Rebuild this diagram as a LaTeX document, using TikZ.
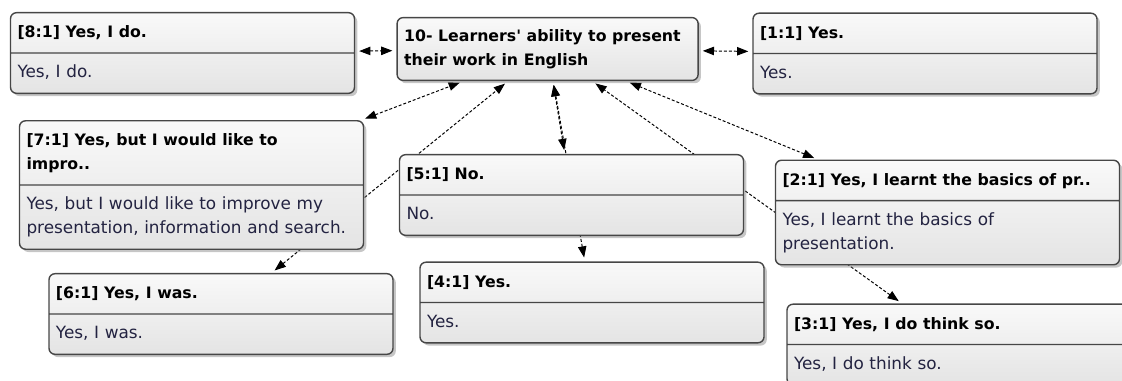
\documentclass[tikz,border=0pt]{standalone}
\usepackage{fontspec}
\setmainfont{DejaVu Sans}
\usetikzlibrary{shapes.multipart,shadows,arrows.meta,backgrounds}
\definecolor{boxline}{RGB}{70,70,70}
\definecolor{boxtop}{RGB}{249,249,249}
\definecolor{boxbot}{RGB}{228,228,228}
\definecolor{bodytext}{RGB}{35,35,65}
\newcommand{\ttlfont}{\fontsize{11.2}{17}\selectfont\bfseries}
\newcommand{\qa}[2]{{\ttlfont\strut#1\strut}\nodepart{two}\color{bodytext}\strut#2\strut}
\tikzset{
  boxlook/.style={draw=boxline, line width=1pt, rounded corners=0.15cm,
    top color=boxtop, bottom color=boxbot,
    drop shadow={shadow xshift=0.07cm, shadow yshift=-0.07cm, opacity=0.45},
    align=left, inner xsep=0.175cm, inner ysep=0.1875cm,
    font=\fontsize{12}{17}\selectfont},
  answer/.style={boxlook, rectangle split, rectangle split parts=2, text width=8.25cm},
  question/.style={boxlook, rectangle, text width=7.175cm},
  link/.style={{Triangle[length=0.28cm,width=0.21cm]}-{Triangle[length=0.28cm,width=0.21cm]},
    dash pattern=on 0.075cm off 0.05cm, line width=0.7pt,
    shorten <=0.1cm, shorten >=0.1cm}
}
\begin{document}
\begin{tikzpicture}
\path[use as bounding box, clip] (0,0) rectangle (28.05,-9.525);
\path node[question] (Q10) at (13.69,-1.225) {\ttlfont\strut 10- Learners\textquotesingle{} ability to present\\their work in English\strut}
node[answer] (A8) at (4.5625,-1.325) {\qa{[8:1] Yes, I do.}{Yes, I do.}}
node[answer] (A1) at (23.125,-1.3375) {\qa{[1:1] Yes.}{Yes.}}
node[answer] (A7) at (4.7875,-4.625) {\qa{[7:1] Yes, but I would like to\\impro..}{Yes, but I would like to improve my\\presentation, information and search.}}
node[answer] (A5) at (14.2875,-4.875) {\qa{[5:1] No.}{No.}}
node[answer] (A4) at (14.8,-7.5625) {\qa{[4:1] Yes.}{Yes.}}
node[answer] (A2) at (23.6875,-5.3125) {\qa{[2:1] Yes, I learnt the basics of pr..}{Yes, I learnt the basics of\\presentation.}}
node[answer] (A3) at (23.975,-8.6125) {\qa{[3:1] Yes, I do think so.}{Yes, I do think so.}}
node[answer] (A6) at (5.525,-7.85) {\qa{[6:1] Yes, I was.}{Yes, I was.}}
;
\begin{scope}[on background layer]
\draw[link]   (A8) -- (Q10);
\draw[link]   (Q10) -- (A1);
\draw[link]   (A7) -- (Q10);
\draw[link]   (A6) -- (Q10);
\draw[link]   (A5) -- (Q10);
\draw[link]   (A4) -- (Q10);
\draw[link]   (A2) -- (Q10);
\draw[link]   (A3) -- (Q10);
\end{scope}
\end{tikzpicture}
\end{document}
